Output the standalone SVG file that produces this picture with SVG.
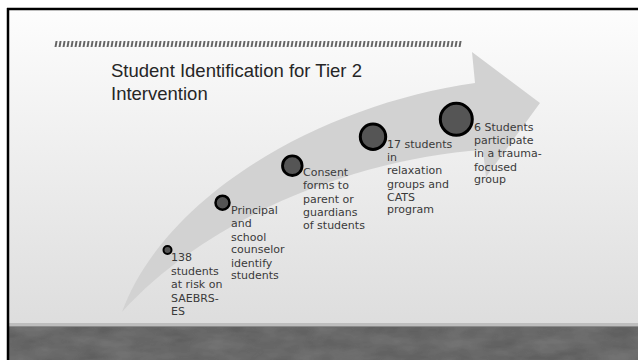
<svg xmlns="http://www.w3.org/2000/svg" width="638" height="360" viewBox="0 0 638 360">
  <defs>
    <linearGradient id="bg" x1="0" y1="0" x2="0" y2="1">
      <stop offset="0" stop-color="#fdfdfd"/>
      <stop offset="1" stop-color="#dddddd"/>
    </linearGradient>
    <filter id="grain" x="0" y="0" width="100%" height="100%">
      <feTurbulence type="fractalNoise" baseFrequency="0.03 0.08" numOctaves="3" seed="4" result="n"/>
      <feColorMatrix in="n" type="matrix" values="0 0 0 0 0.55  0 0 0 0 0.55  0 0 0 0 0.55  0 0 0 0.18 0" result="c"/>
      <feComposite in="c" in2="SourceGraphic" operator="in" result="t"/>
      <feMerge><feMergeNode in="SourceGraphic"/><feMergeNode in="t"/></feMerge>
    </filter>
    <style>
      .dot { fill: #555555; stroke: #000000; }
      .lbl { font-family: "DejaVu Sans", "Liberation Sans", sans-serif; font-size: 11px; fill: #3a3a3a; }
      .title { font-family: "Liberation Sans", Arial, sans-serif; font-size: 18.5px; fill: #262626; }
    </style>
  </defs>

  <!-- page / slide background -->
  <rect x="0" y="0" width="638" height="360" fill="#ffffff"/>
  <rect x="8" y="9" width="630" height="318" fill="url(#bg)"/>
  <rect x="8" y="323" width="630" height="3" fill="#bdbdbd"/>
  <rect x="8" y="326" width="630" height="1" fill="#8a8a8a"/>
  <rect x="8" y="327" width="630" height="33" fill="#5a5a5a" filter="url(#grain)"/>
  <line x1="7" y1="9" x2="638" y2="9" stroke="#000" stroke-width="2.5"/>
  <line x1="8" y1="8" x2="8" y2="360" stroke="#000" stroke-width="2.5"/>

  <!-- hatched rule -->
  <line x1="55" y1="44" x2="463" y2="44" stroke="#666666" stroke-width="6" stroke-dasharray="2 2" transform="translate(7.8,0) skewX(-10)"/>

  <!-- title -->
  <text class="title" x="111" y="77">Student Identification for Tier 2</text>
  <text class="title" x="111" y="100">Intervention</text>

  <!-- arrow backdrop -->
  <g id="connectors">
    <path d="M122,312 C165,195 320,105 475,83 L472,52 L540,103 L486,177 L483,150 C360,158 210,215 122,312 Z" fill="#d2d2d2"/>
  </g>

  <g id="node1">
    <circle class="dot" cx="167.5" cy="250" r="4" stroke-width="2"/>
    <text class="lbl">
      <tspan x="171" y="261">138</tspan>
      <tspan x="171" y="274.5">students</tspan>
      <tspan x="171" y="288">at risk on</tspan>
      <tspan x="171" y="301.5">SAEBRS-</tspan>
      <tspan x="171" y="315">ES</tspan>
    </text>
  </g>

  <g id="node2">
    <circle class="dot" cx="222.5" cy="202.7" r="7" stroke-width="2.5"/>
    <text class="lbl">
      <tspan x="231" y="214">Principal</tspan>
      <tspan x="231" y="227.3">and</tspan>
      <tspan x="231" y="240.7">school</tspan>
      <tspan x="231" y="253.3">counselor</tspan>
      <tspan x="231" y="266.7">identify</tspan>
      <tspan x="231" y="279.3">students</tspan>
    </text>
  </g>

  <g id="node3">
    <circle class="dot" cx="292.3" cy="165.7" r="9.8" stroke-width="2.8"/>
    <text class="lbl">
      <tspan x="303" y="176">Consent</tspan>
      <tspan x="303" y="189.3">forms to</tspan>
      <tspan x="303" y="203">parent or</tspan>
      <tspan x="303" y="216">guardians</tspan>
      <tspan x="303" y="229.3">of students</tspan>
    </text>
  </g>

  <g id="node4">
    <circle class="dot" cx="373" cy="136.7" r="12.7" stroke-width="3"/>
    <text class="lbl">
      <tspan x="387" y="147.7">17 students</tspan>
      <tspan x="387" y="160.5">in</tspan>
      <tspan x="387" y="174.3">relaxation</tspan>
      <tspan x="387" y="187.7">groups and</tspan>
      <tspan x="387" y="201">CATS</tspan>
      <tspan x="387" y="213">program</tspan>
    </text>
  </g>

  <g id="node5">
    <circle class="dot" cx="456.3" cy="119.3" r="16" stroke-width="3"/>
    <text class="lbl">
      <tspan x="474" y="130.7">6 Students</tspan>
      <tspan x="474" y="144">participate</tspan>
      <tspan x="474" y="157">in a trauma-</tspan>
      <tspan x="474" y="170.7">focused</tspan>
      <tspan x="474" y="183.3">group</tspan>
    </text>
  </g>
</svg>
